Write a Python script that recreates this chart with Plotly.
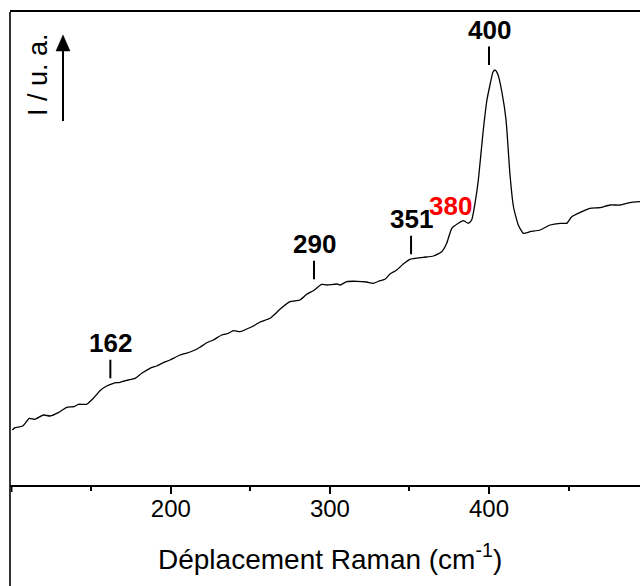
import numpy as np
import plotly.graph_objects as go

# Raman spectrum (wavenumber in cm-1, intensity in arbitrary units)
wavenumber = [
    100.4, 102.1, 106.9, 111.1, 114.6, 119.9, 124.1, 129.3, 134.6, 139.2,
    141.9, 147.1, 151.3, 155.5, 159.7, 163.9, 168.1, 173.3, 177.5, 181.7,
    186.9, 191.1, 195.3, 199.5, 205.8, 212.1, 216.5, 218.3, 222.6, 226.7,
    232.0, 236.1, 239.3, 243.5, 247.7, 251.9, 256.1, 262.4, 268.6, 274.9,
    281.2, 285.4, 289.6, 294.8, 298.0, 304.3, 306.4, 310.6, 316.9, 323.1,
    327.3, 331.5, 334.6, 337.8, 342.0, 346.1, 350.3, 358.7, 365.0, 370.3,
    373.4, 376.6, 380.7, 383.8, 387.0, 389.1, 391.2, 393.3, 396.2, 398.7,
    400.6, 402.5, 403.8, 405.7, 408.2, 410.7, 413.2, 415.4, 418.4, 421.6,
    425.8, 432.1, 438.4, 444.7, 448.8, 452.0, 458.3, 463.5, 469.8, 476.1,
    482.4, 488.6, 494.9,
]
intensity = [
    55.0, 57.3, 59.0, 66.7, 65.7, 70.0, 69.0, 72.3, 77.7, 78.3,
    80.7, 80.7, 86.7, 94.3, 99.0, 101.7, 102.7, 105.0, 106.7, 111.7,
    116.7, 119.0, 122.3, 125.0, 130.0, 133.0, 136.0, 137.7, 142.3, 145.0,
    150.0, 151.7, 154.3, 153.3, 156.0, 159.0, 163.0, 166.7, 175.7, 183.3,
    185.0, 190.7, 194.3, 200.7, 200.0, 201.0, 200.0, 203.3, 203.7, 203.0,
    201.7, 204.3, 205.7, 211.0, 215.0, 221.0, 225.7, 227.7, 229.0, 233.3,
    241.7, 256.7, 261.7, 264.3, 261.7, 265.0, 281.7, 305.0, 352.0, 385.0,
    400.0, 413.0, 415.0, 410.0, 392.0, 365.0, 310.0, 278.0, 260.0, 251.7,
    253.3, 255.0, 260.0, 261.7, 261.7, 268.3, 273.3, 276.7, 277.3, 280.0,
    280.0, 282.3, 283.3,
]

# Assigned bands
band_positions = [162, 290, 351, 400]
band_labels = ["162", "290", "351", "400"]
shoulder_position = 380
shoulder_label = "380"

x_labelled_ticks = [200, 300, 400]
x_first_tick = 100
x_minor_ticks = [150, 250, 350, 450]

FONT = "Arial, Liberation Sans, sans-serif"
W, H = 640, 586
M_L, M_R, M_T, M_B = 10, 0, 12, 101
plot_w = W - M_L - M_R
plot_h = H - M_T - M_B


def px(xp):
    """Horizontal page pixel -> paper fraction."""
    return (xp - M_L) / plot_w


def py(yp):
    """Vertical page pixel -> paper fraction."""
    return (H - M_B - yp) / plot_h


w_arr = np.array(wavenumber)
i_arr = np.array(intensity)

fig = go.Figure()
fig.add_trace(go.Scatter(
    x=wavenumber, y=intensity, mode="lines",
    line=dict(color="black", width=1.3, shape="spline", smoothing=0.5),
    showlegend=False, hoverinfo="skip",
))

annotations = []
for pos, lab in zip(band_positions, band_labels):
    win = (w_arr >= pos - 5) & (w_arr <= pos + 5)
    y_top = float(i_arr[win].max())
    annotations.append(dict(
        x=pos, y=y_top, xref="x", yref="y", text=f"<b>{lab}</b>",
        showarrow=True, arrowhead=0, arrowwidth=2, arrowcolor="black",
        ax=0, ay=-40, standoff=5,
        font=dict(family=FONT, size=26, color="black"),
    ))

annotations.append(dict(
    x=shoulder_position, y=float(np.interp(shoulder_position, w_arr, i_arr)),
    xref="x", yref="y", text=f"<b>{shoulder_label}</b>", showarrow=False,
    yshift=18, xshift=-7, xanchor="center", yanchor="middle",
    font=dict(family=FONT, size=26, color="#ff0000"),
))

# Intensity axis label
annotations.append(dict(
    x=px(38), y=py(75), xref="paper", yref="paper",
    xanchor="center", yanchor="middle",
    text="I / u. a.", textangle=-90, showarrow=False,
    font=dict(family=FONT, size=27, color="black"),
))

# x-axis title
annotations.append(dict(
    x=px(330), y=py(557), xref="paper", yref="paper",
    text="Déplacement Raman (cm<sup>-1</sup>)", showarrow=False,
    xanchor="center", yanchor="middle",
    font=dict(family=FONT, size=28, color="black"),
))

shapes = [
    # left frame edge, running past the x axis to the bottom of the page
    dict(type="line", xref="paper", yref="paper",
         x0=0, x1=0, y0=py(H), y1=1,
         line=dict(color="black", width=1.6)),
    # major tick at the lower range limit
    dict(type="line", xref="x", yref="paper",
         x0=x_first_tick, x1=x_first_tick, y0=0, y1=py(H - M_B + 7),
         line=dict(color="black", width=1.5)),
    # intensity arrow: shaft and head
    dict(type="line", xref="paper", yref="paper",
         x0=px(63), x1=px(63), y0=py(121), y1=py(48),
         line=dict(color="black", width=2)),
    dict(type="path", xref="paper", yref="paper",
         path=(f"M {px(63)} {py(35)} L {px(70)} {py(51)} "
               f"L {px(56)} {py(51)} Z"),
         fillcolor="black", line=dict(color="black", width=0.5)),
]

fig.update_layout(
    width=W, height=H,
    margin=dict(l=M_L, r=M_R, t=M_T, b=M_B, pad=0),
    paper_bgcolor="white", plot_bgcolor="white",
    annotations=annotations,
    shapes=shapes,
    xaxis=dict(
        range=[98.93, 494.9], showgrid=False, zeroline=False,
        showline=True, linecolor="black", linewidth=1.6, mirror=True,
        ticks="outside", ticklen=7, tickwidth=1.5, tickcolor="black",
        tickvals=x_labelled_ticks, ticklabelstandoff=-6,
        tickfont=dict(family=FONT, size=24, color="black"),
        minor=dict(ticks="outside", ticklen=4, tickwidth=1.5,
                   tickcolor="black", tickvals=x_minor_ticks),
    ),
    yaxis=dict(
        range=[0, 473], showgrid=False, zeroline=False, showline=False,
        showticklabels=False, ticks="",
    ),
)

fig.write_html("out.html")
